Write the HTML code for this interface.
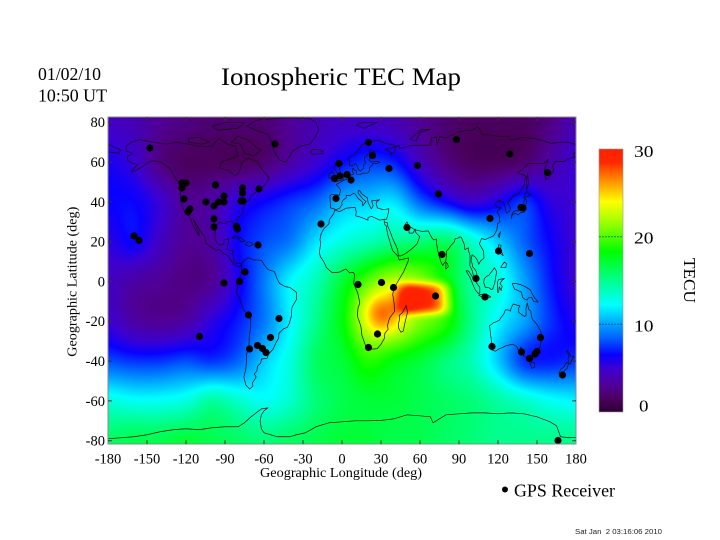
<!DOCTYPE html>
<html><head><meta charset="utf-8">
<style>
html,body{margin:0;padding:0;background:#fff;}
body{width:720px;height:540px;position:relative;overflow:hidden;}
#c{position:absolute;left:108px;top:117px;width:468px;height:327px;background:linear-gradient(to bottom,#3a0060 0%,#3010c0 30%,#00d0ff 55%,#00ff80 80%,#20ff40 100%);}
svg{position:absolute;left:0;top:0;}
</style></head><body>
<canvas id="c" width="468" height="327"></canvas>
<svg width="720" height="540" viewBox="0 0 720 540" xmlns="http://www.w3.org/2000/svg">
<defs>
<clipPath id="mc"><rect x="108" y="117" width="468" height="327"/></clipPath>
<linearGradient id="cb" x1="0" y1="1" x2="0" y2="0">
<stop offset="0" stop-color="rgb(45,0,50)"/>
<stop offset="0.05" stop-color="rgb(75,0,95)"/>
<stop offset="0.10" stop-color="rgb(80,0,150)"/>
<stop offset="0.167" stop-color="rgb(60,0,210)"/>
<stop offset="0.217" stop-color="rgb(10,0,255)"/>
<stop offset="0.28" stop-color="rgb(0,96,255)"/>
<stop offset="0.357" stop-color="rgb(0,192,255)"/>
<stop offset="0.407" stop-color="rgb(0,255,255)"/>
<stop offset="0.51" stop-color="rgb(0,255,128)"/>
<stop offset="0.61" stop-color="rgb(0,255,0)"/>
<stop offset="0.723" stop-color="rgb(160,255,0)"/>
<stop offset="0.80" stop-color="rgb(255,255,0)"/>
<stop offset="0.89" stop-color="rgb(255,128,0)"/>
<stop offset="0.95" stop-color="rgb(255,40,0)"/>
<stop offset="1" stop-color="rgb(255,32,0)"/>
</linearGradient>
</defs>

<g clip-path="url(#mc)">
<g transform="matrix(1.3 0 0 -1.99 342 281.5)" fill="none" stroke="#111" stroke-width="0.7" vector-effect="non-scaling-stroke" stroke-linejoin="round">
<polyline vector-effect="non-scaling-stroke" points="-166,68 -162,70 -156,71.3 -145,70 -135,69 -128,70 -118,69 -110,68 -100,68 -95,72 -88,69 -82,68 -80,63 -93,60 -94,57 -88,56 -82,53 -79,55 -77,60 -72,62 -65,60 -61,56 -56,52 -60,48 -66,45 -70,43 -71,41 -74,40 -76,37 -76,35 -81,31 -80,27 -80,25.3 -81.5,25.5 -82.7,28 -84,30 -88,30.3 -90,29 -94,29.7 -97,28 -97.5,25 -97.7,21.5 -96,19 -94,18.3 -91,18.7 -90.5,21 -87,21.5 -88,18 -88.5,16 -84,15.5 -83.5,11 -81.5,9 -79,9.3 -77.3,8.5 -78.5,7.5 -80,7.5 -82,8.2 -85.6,10.5 -87.5,13 -91,14 -94.5,16.2 -96.5,15.7 -100,17 -105,19.5 -105.6,22.7 -109.4,25.5 -112.5,29.3 -114.7,31.5 -113,29 -110,24 -110,23 -112,25 -114.3,28 -115.8,30.4 -117.2,32.6 -118.5,34 -120.6,34.6 -122.4,37.5 -124,40.5 -124.4,43 -124,46.3 -124.6,48.4 -123,49 -127,50.8 -130,54 -132,56.5 -136,58.5 -140,60 -146,60.7 -150,59.5 -154,57.5 -158,56 -162,55 -160,57 -157,58.7 -162,59.6 -165,61 -165,63 -161,64.5 -166,65.5 -166,68"/>
<polyline vector-effect="non-scaling-stroke" points="-73,78 -66,81 -45,82.3 -25,82 -20,80 -18,76 -21,72 -25,69 -32,68 -38,65.5 -43,60 -48,61 -51,64 -53,67 -54,70 -57,74 -66,76 -73,78"/>
<polyline vector-effect="non-scaling-stroke" points="-80,73 -72,71 -65,67 -62,66 -68,63 -75,64.5 -78,69 -85,70 -80,73"/>
<polyline vector-effect="non-scaling-stroke" points="-118,72 -110,72.5 -102,70 -108,69 -118,70 -118,72"/>
<polyline vector-effect="non-scaling-stroke" points="-100,78 -90,80 -75,80 -80,77 -95,76 -100,78"/>
<polyline vector-effect="non-scaling-stroke" points="-85,21.9 -82,23.1 -77.5,21.8 -74.2,20.2 -77.7,19.9 -80,21.8 -85,21.9"/>
<polyline vector-effect="non-scaling-stroke" points="-74.4,18.4 -72.5,19.9 -70,19.7 -68.4,18.6 -71.4,17.6 -74.4,18.4"/>
<polyline vector-effect="non-scaling-stroke" points="-22.5,63.9 -14.6,64.4 -14.5,65.4 -18.6,66.2 -22.7,66.4 -24,65 -22.5,63.9"/>
<polyline vector-effect="non-scaling-stroke" points="-77.3,8.5 -75.5,10.5 -72,12 -68,10.8 -62,10.7 -60,8.5 -57,6 -52,5 -50,1.5 -48,-1 -44,-2.5 -40,-3 -35,-5.5 -35,-9 -38.5,-13 -39,-17.5 -40.5,-21 -42,-23 -45,-23.8 -48.5,-26 -48.7,-28.5 -51,-31 -53,-34 -56.5,-36.5 -57.5,-38.5 -62,-39 -62.5,-41 -65,-42.5 -65.5,-45 -67.5,-46.5 -66,-48 -69,-51 -68.5,-52.5 -71,-54 -74,-52 -75.5,-48 -74,-44 -73.5,-40 -73.5,-37 -71.5,-32 -71.4,-28 -70.5,-24 -70.2,-18.5 -72,-17 -76,-14 -79,-8 -81,-6 -80.5,-2 -80,0 -78.5,2 -77.5,4 -77.3,7 -77.3,8.5"/>
<polyline vector-effect="non-scaling-stroke" points="-17,21 -16,24 -14,26.5 -10,29 -9.8,31 -6.5,34 -5.5,36 -2,35.1 3,36.8 10,37.3 11,35 10.5,33 15,32.2 20,30.8 20,32.2 23,32.7 29,30.8 32.3,31.3 32.5,30 33,28.5 34,28 35,24 37.5,18.5 39,15.5 43,12.7 44,10.8 51.2,11.8 51,10.4 47.5,5 42.5,-0.5 40,-3.5 39,-6.5 40,-10.5 40.5,-15 36.5,-18.5 35,-22 35.5,-24 33,-26 32.5,-28.7 30,-31.5 27,-33.8 22.5,-34 20,-34.8 18.4,-34 18,-32 15.3,-27 14.5,-22.5 11.8,-17.3 12.3,-13.5 13.7,-10.7 12.2,-6 9,-1 9.7,3.5 8.5,4.6 6,4.3 3,6.3 -2,4.7 -7.5,4.4 -12,7 -13.3,9 -15,11 -16.7,12.5 -17.4,14.7 -16.3,19.5 -17,21"/>
<polyline vector-effect="non-scaling-stroke" points="49.3,-12 50.4,-15.5 49.8,-17 48.5,-20.5 47.1,-24.9 45.3,-25.5 43.6,-23.5 43.3,-21.5 44.3,-19 44,-17 46.3,-15.8 48,-13.8 49.3,-12"/>
<polyline vector-effect="non-scaling-stroke" points="32.3,31.3 34.3,31.3 35,33 35.9,35 36,36.6 32.5,36.1 30.5,36.3 28.5,36.7 27.2,37 26.2,39.4 27,40.3 29,41.1 26,40.8 22.8,40.5 24,38 22.5,36.5 20.1,39.6 19.5,42 15,44.2 13.7,45.6 12.5,45.6 12.3,44.5 16,41.5 18.5,40.2 17,39 16,38 15.6,40 12.3,41.8 10.2,43.9 9,44.4 6,43.1 3.2,43.3 3.2,42 0.9,41 -0.3,39.5 0.2,38.8 -2,36.7 -5.5,36 -6,36.5 -8.9,37 -9,38.8 -9.3,43 -8,43.7 -1.9,43.4 -1.2,46 -2.9,47.6 -4.5,48.7 -1.6,49.8 1.6,50.9 3.3,51.3 4.7,52.9 6.9,53.5 8.9,53.9 8.1,55.5 8.1,56.5 8.5,57.1 9.9,55.8 10.9,55.8 11,54 14.1,53.8 16.5,54.5 19.7,54.4 21.1,55.7 21,56.8 21.6,57.4 23.4,58.6 23.3,59.2 28,59.5 29.1,60 26.3,60.4 22.9,60 21,60.7 21.5,61.7 21.6,63.2 25.3,65.1 24.3,65.6 21.6,65.6 21.4,64.4 19,63.5 17.4,62.5 17.2,61.3 18,59.4 16.8,58.7 16.5,57.3 16.3,56.7 14.1,55.4 12.6,56.3 11.7,58 11,58.9 10.4,59.4 8.4,58.3 7,58 5.7,58.6 5.9,59.8 5,62 8.5,63.5 10.5,64.5 12.4,65.9 14.7,67.8 15,68.5 19.2,69.8 23.7,70.5 28,71 33,69.5 36,69.1 40.5,68.4 41.1,67.5 33.2,66.5 38.4,64.5 37,63.8 40.3,64.6 41,67.4 44,68.5 44.2,66.8 54,68.5 59,68.5 68,68.5 69,72.5 72.5,72.5 73,68.5 75,72.8 80,72.2 86,74 88,75 97,76 100,76 104.5,77.7 106,76.5 108,73.7 113,73.7 120,73 128,72.8 130,71 140,72.5 150,71.6 160.9,69.4 170,70.1 175,69.8 180,68.9"/>
<polyline vector-effect="non-scaling-stroke" points="-180,68.9 -175,67.5 -170,66 -172,64.5 -180,65"/>
<polyline vector-effect="non-scaling-stroke" points="180,65 178.7,64.5 178,64.1 179.2,62.3 177.2,62.5 170.7,60.3 163.7,60.3 162,58 163,56 160,53 156.8,51 155.5,55.5 156.5,57.5 159,61.5 155,59.2 148.5,59.2 143.4,59.3 138.8,56.3 135.1,54.7 137.5,53.9 141.4,53.1 141.4,52.2 140.5,51 140.1,48.4 138.2,46.3 135.5,43.9 132,43.3 129.7,41.6 129.5,40.8 127.5,39.8 129.5,37 128.9,35.2 126.5,34.4 125.3,37.7 124.3,39.9 122.5,40.4 121.4,39.7 121,40.9 117.5,39 118,38.5 119.2,37.2 122.5,37 120.6,36.1 119.2,34.9 120,34.4 121.1,32.4 121.5,30.1 119.6,28.9 119.2,26 116.7,23 114.2,22.2 111.8,21.6 110,21.1 107.4,21.6 105.7,19 106.6,17.8 108.9,15.3 109.2,11.7 106.7,10.4 105.2,8.6 104.3,10.5 102.6,12.2 100.1,13.4 99.2,10.3 100,9.3 100.5,7.4 102.1,6.2 103.4,4.9 104.2,1.5 103.5,1.3 101,3 100.3,5.3 98.3,8 98.5,10.7 98.5,13.1 97.6,14.8 97.2,16.9 94.5,16 94.3,18.2 92.7,20.7 91.8,22.2 90.6,22.4 89,21.7 87,21.5 86.5,20 84.1,18.3 82.2,16.6 80.2,15.1 80.3,13 79.9,10.4 78.3,8.9 77.5,8 76.3,9.5 74.6,13 73.5,16 72.8,19 72.6,21.4 70.5,20.9 68.8,22.3 67.5,23.9 66.5,25.4 61.6,25.2 57.3,25.8 54.8,26.5 51.4,27.9 50,30 48.4,28.5 50,26.3 51.5,25.9 51.6,24.3 54.5,24.3 56.3,26.3 56.4,24.9 59.8,22.5 57.8,19 55.5,17.5 52.2,15.6 48.7,14 45,12.8 43.3,13 42.8,16 40.8,19 39,21.5 36.8,25.5 35,28 34.9,29.5 32.5,30"/>
<polyline vector-effect="non-scaling-stroke" points="-5.7,50 1.4,51.3 1.7,52.7 0,53.5 -1.3,55 -2,57 -3,58.6 -5,58.6 -6.2,56.8 -4.9,55.5 -3,54 -4.8,53 -4,51.5 -5.7,50"/>
<polyline vector-effect="non-scaling-stroke" points="-6,52 -6,54 -7.6,55.2 -10,54 -10,52 -6,52"/>
<polyline vector-effect="non-scaling-stroke" points="52,71.5 57,70.7 60,75 68,76.5 61,76.3 55,73 52,71.5"/>
<polyline vector-effect="non-scaling-stroke" points="11,78.5 16,80 27,80 20,78 17,77 11,78.5"/>
<polyline vector-effect="non-scaling-stroke" points="142,46 143.5,49.3 142.8,54.3 142,51.5 142,46"/>
<polyline vector-effect="non-scaling-stroke" points="130,31.5 131,33.5 133,34.3 135.5,33.5 137.5,34.6 140.5,35 141,37.5 142,40 141.4,41.4 140,40.7 139.8,38 137.2,36.8 135.7,35.5 133,35.6 131,34.4 130,31.5"/>
<polyline vector-effect="non-scaling-stroke" points="140,41.6 141.5,42.6 145.5,43.3 141.8,45.4 140,42.5 140,41.6"/>
<polyline vector-effect="non-scaling-stroke" points="79.8,6.2 81.8,7.5 81.2,8.9 80,9.8 79.8,6.2"/>
<polyline vector-effect="non-scaling-stroke" points="120.1,23 121.9,25 121,22 120.1,23"/>
<polyline vector-effect="non-scaling-stroke" points="120.5,18.5 122.3,18.2 122,16 124,13 122,14 120.5,14.5 120,16 120.5,18.5"/>
<polyline vector-effect="non-scaling-stroke" points="122,7 126,7 126.5,8.9 125,9.8 123,8.1 122,7"/>
<polyline vector-effect="non-scaling-stroke" points="109.5,1.5 111.5,2.7 113,3.2 115.5,5.3 117.3,6.9 119,5 117.9,1 117.5,-0.8 116.5,-2.5 116,-3.7 114.9,-4.1 113,-3.1 110.2,-2.9 109,-0.5 109.5,1.5"/>
<polyline vector-effect="non-scaling-stroke" points="95.3,5.5 97.5,5.2 100.6,2 103.8,-1 106,-3 106,-5.9 104.7,-5.9 102.5,-4.2 101,-2 98.6,1.8 95.4,5.5"/>
<polyline vector-effect="non-scaling-stroke" points="105,-6.8 108.5,-6.4 112.6,-6.9 114.5,-7.8 110,-8.1 106.5,-7.4 105,-6.8"/>
<polyline vector-effect="non-scaling-stroke" points="119.5,-5.5 120.5,-5.5 121,-2.6 122.5,-4.5 123.2,-2.5 121.5,-1 123,0.5 125,1.5 120.5,1 119.5,-0.5 119.5,-5.5"/>
<polyline vector-effect="non-scaling-stroke" points="131,-1 134,-1 138,-1.7 141,-2.6 145,-4.3 146,-5.9 148,-8 150.8,-10.3 147.5,-10.1 146,-8 143.3,-8.2 142.6,-9.3 141,-9.1 139,-8 138,-5.4 135,-4.4 133,-4 132,-2.8 131,-1"/>
<polyline vector-effect="non-scaling-stroke" points="113.5,-22 114.2,-26.2 115,-30 115.7,-33.5 115,-34.3 118,-35 121,-33.8 124,-33 126,-32.3 131.3,-31.5 134.3,-32.6 135.9,-34.8 137.8,-32.8 137.5,-35 140,-37.5 143.5,-38.8 146.3,-39.1 150,-37.5 150.7,-35 152.5,-32.5 153.6,-28.5 153.1,-25.4 150.9,-22.6 149.2,-21 146.4,-19 145.4,-16 145.3,-14.9 143.6,-14 142.5,-10.7 141.5,-13.6 141.6,-16.9 140.5,-17.6 139,-17 136,-15.5 135.9,-13.3 136.9,-12.3 132.6,-11.5 131.8,-11.3 130.2,-13.1 129.6,-14.9 127.8,-14.3 125.7,-14.2 124.4,-16.4 122.2,-18.2 121,-19.5 118,-20.4 116.7,-20.6 114.6,-21.8 113.5,-22"/>
<polyline vector-effect="non-scaling-stroke" points="144.7,-40.7 148.3,-40.9 148,-43.2 146,-43.6 144.7,-41.2 144.7,-40.7"/>
<polyline vector-effect="non-scaling-stroke" points="172.6,-34.5 174.3,-35.3 175.9,-37.5 178.5,-37.7 177,-39.3 175.2,-41.6 174.6,-40.9 173.8,-39.2 174.6,-37.3 172.6,-34.5"/>
<polyline vector-effect="non-scaling-stroke" points="172.8,-40.5 174.3,-41.3 173,-43.8 171.2,-44.7 169.3,-46.6 166.7,-46.2 168.3,-44.1 170.6,-43 172.8,-40.5"/>
<polyline vector-effect="non-scaling-stroke" points="-180,-79 -170,-78.5 -160,-78 -150,-77 -140,-75.5 -130,-74.5 -120,-74 -110,-74.5 -100,-73.5 -90,-73 -80,-73 -75,-71 -70,-68 -66,-66 -62,-64 -57,-63.5 -60,-65 -62,-67 -63,-70 -62,-74 -60,-76 -50,-78 -40,-78 -35,-77 -28,-76 -20,-73 -10,-71 0,-70.5 10,-70 20,-70 30,-69.8 40,-69 50,-67 60,-67.5 68,-68 70,-71 75,-69 80,-67 90,-66.5 100,-66 110,-66 120,-66.5 130,-66 140,-66.5 150,-68 160,-70.5 165,-72.5 167,-76 168,-78 175,-78.5 180,-78.3"/>
</g>
</g>

<g fill="#000">
<circle cx="150" cy="148" r="3.6"/><circle cx="182" cy="183" r="3.6"/><circle cx="186" cy="183" r="3.6"/><circle cx="182" cy="188" r="3.6"/><circle cx="184" cy="199" r="3.6"/><circle cx="190" cy="209" r="3.6"/><circle cx="188" cy="212" r="3.6"/><circle cx="215.5" cy="185" r="3.6"/><circle cx="206" cy="202" r="3.6"/><circle cx="214" cy="206" r="3.6"/><circle cx="218.5" cy="202" r="3.6"/><circle cx="224" cy="196" r="3.6"/><circle cx="224" cy="202" r="3.6"/><circle cx="242.5" cy="188" r="3.6"/><circle cx="242.5" cy="193" r="3.6"/><circle cx="259" cy="189" r="3.6"/><circle cx="241" cy="201" r="3.6"/><circle cx="243" cy="201" r="3.6"/><circle cx="214" cy="219" r="3.6"/><circle cx="214" cy="227" r="3.6"/><circle cx="236.5" cy="226.5" r="3.6"/><circle cx="237.5" cy="229" r="3.6"/><circle cx="258" cy="245" r="3.6"/><circle cx="245" cy="272" r="3.6"/><circle cx="239.5" cy="281.5" r="3.6"/><circle cx="224" cy="283" r="3.6"/><circle cx="134" cy="236" r="3.6"/><circle cx="139" cy="240.5" r="3.6"/><circle cx="275" cy="144" r="3.6"/><circle cx="321" cy="224" r="3.6"/><circle cx="336" cy="198.5" r="3.6"/><circle cx="334.5" cy="178.5" r="3.6"/><circle cx="339" cy="163.5" r="3.6"/><circle cx="340" cy="176" r="3.6"/><circle cx="347" cy="174.5" r="3.6"/><circle cx="351" cy="180" r="3.6"/><circle cx="358" cy="284.5" r="3.6"/><circle cx="368.5" cy="142.5" r="3.6"/><circle cx="372.5" cy="155.5" r="3.6"/><circle cx="389" cy="168.5" r="3.6"/><circle cx="417.5" cy="165.5" r="3.6"/><circle cx="456.5" cy="139.5" r="3.6"/><circle cx="510" cy="154" r="3.6"/><circle cx="547.5" cy="172.5" r="3.6"/><circle cx="438.5" cy="194" r="3.6"/><circle cx="521" cy="207.5" r="3.6"/><circle cx="523" cy="208" r="3.6"/><circle cx="490" cy="218.5" r="3.6"/><circle cx="407" cy="227.5" r="3.6"/><circle cx="442" cy="254.5" r="3.6"/><circle cx="498.5" cy="251" r="3.6"/><circle cx="529.5" cy="253.5" r="3.6"/><circle cx="476" cy="278.5" r="3.6"/><circle cx="381.5" cy="282.5" r="3.6"/><circle cx="393.5" cy="287.5" r="3.6"/><circle cx="435.5" cy="296" r="3.6"/><circle cx="485" cy="297" r="3.6"/><circle cx="248.5" cy="315" r="3.6"/><circle cx="279" cy="318.5" r="3.6"/><circle cx="199.5" cy="336.5" r="3.6"/><circle cx="270.5" cy="337.5" r="3.6"/><circle cx="249.5" cy="349" r="3.6"/><circle cx="257.5" cy="345.5" r="3.6"/><circle cx="262.5" cy="348.5" r="3.6"/><circle cx="266" cy="352.5" r="3.6"/><circle cx="377.5" cy="334" r="3.6"/><circle cx="368.5" cy="347.5" r="3.6"/><circle cx="492" cy="346.5" r="3.6"/><circle cx="521.5" cy="352" r="3.6"/><circle cx="540.5" cy="337.5" r="3.6"/><circle cx="529.5" cy="358.5" r="3.6"/><circle cx="535" cy="354" r="3.6"/><circle cx="537" cy="351.5" r="3.6"/><circle cx="562.5" cy="375" r="3.6"/><circle cx="558" cy="440.5" r="3.6"/>
</g>

<rect x="108" y="117" width="468" height="327" fill="none" stroke="#8a8a8a" stroke-width="1"/>
<g stroke="#333" stroke-width="1">
<path d="M147,444v-4M186,444v-4M225,444v-4M264,444v-4M303,444v-4M342,444v-4M381,444v-4M420,444v-4M459,444v-4M498,444v-4M537,444v-4"/>
<path d="M147,117v4M186,117v4M225,117v4M264,117v4M303,117v4M342,117v4M381,117v4M420,117v4M459,117v4M498,117v4M537,117v4"/>
<path d="M108,122.3h4M108,162.1h4M108,201.9h4M108,241.7h4M108,281.5h4M108,321.3h4M108,361.1h4M108,400.9h4M108,440.7h4"/>
<path d="M576,122.3h-4M576,162.1h-4M576,201.9h-4M576,241.7h-4M576,281.5h-4M576,321.3h-4M576,361.1h-4M576,400.9h-4M576,440.7h-4"/>
</g>

<rect x="599" y="149" width="24" height="263" fill="url(#cb)" stroke="#999" stroke-width="0.6"/>
<g stroke="#000" stroke-opacity="0.45" stroke-width="1" stroke-dasharray="2,1">
<line x1="599" y1="236.7" x2="623" y2="236.7"/>
<line x1="599" y1="324.3" x2="623" y2="324.3"/>
</g>

<g font-family="'Liberation Serif','Times New Roman',serif" fill="#000">
<text x="38" y="80" font-size="17.5" textLength="63" lengthAdjust="spacingAndGlyphs">01/02/10</text>
<text x="38" y="101.7" font-size="17.5" textLength="69" lengthAdjust="spacingAndGlyphs">10:50 UT</text>
<text x="221" y="85" font-size="25.5" textLength="240" lengthAdjust="spacingAndGlyphs">Ionospheric TEC Map</text>

<g font-size="14.5" text-anchor="end">
<text x="105" y="127.2">80</text>
<text x="105" y="167">60</text>
<text x="105" y="206.8">40</text>
<text x="105" y="246.6">20</text>
<text x="105" y="286.4">0</text>
<text x="105" y="326.2">-20</text>
<text x="105" y="366">-40</text>
<text x="105" y="405.8">-60</text>
<text x="105" y="445.6">-80</text>
</g>
<g font-size="14.5" text-anchor="middle">
<text x="108" y="463.3">-180</text>
<text x="147" y="463.3">-150</text>
<text x="186" y="463.3">-120</text>
<text x="225" y="463.3">-90</text>
<text x="264" y="463.3">-60</text>
<text x="303" y="463.3">-30</text>
<text x="342" y="463.3">0</text>
<text x="381" y="463.3">30</text>
<text x="420" y="463.3">60</text>
<text x="459" y="463.3">90</text>
<text x="498" y="463.3">120</text>
<text x="537" y="463.3">150</text>
<text x="576" y="463.3">180</text>
</g>
<text transform="translate(76.5,281.7) rotate(-90)" font-size="14" text-anchor="middle" textLength="150" lengthAdjust="spacingAndGlyphs">Geographic Latitude (deg)</text>
<text x="341" y="477" font-size="14" text-anchor="middle" textLength="162" lengthAdjust="spacingAndGlyphs">Geographic Longitude (deg)</text>

<text x="634" y="156.8" font-size="17" textLength="19.5" lengthAdjust="spacingAndGlyphs">30</text>
<text x="634" y="243.5" font-size="17" textLength="19.5" lengthAdjust="spacingAndGlyphs">20</text>
<text x="634" y="331.5" font-size="17" textLength="19.5" lengthAdjust="spacingAndGlyphs">10</text>
<text x="639" y="411.5" font-size="17" textLength="9.5" lengthAdjust="spacingAndGlyphs">0</text>
<text transform="translate(684,280.5) rotate(90)" font-size="17" text-anchor="middle" textLength="45" lengthAdjust="spacingAndGlyphs">TECU</text>

<circle cx="505" cy="489.5" r="3" fill="#000"/>
<text x="514" y="496.7" font-size="17.5" textLength="101" lengthAdjust="spacingAndGlyphs">GPS Receiver</text>
</g>
<text x="575" y="534" font-family="'Liberation Sans',Arial,sans-serif" font-size="7" fill="#222" textLength="87" lengthAdjust="spacingAndGlyphs" xml:space="preserve">Sat Jan  2 03:16:06 2010</text>
</svg>

<script>
(function(){
var G=[
[4.5,4,3,2.5,2,2,2,3,4,4.5,4.5,4,3,2,1.5,1.5,1.5,2.5,4],
[6,5,2.5,1.5,1.5,1.5,2,3.5,5,6.5,7.5,7,4.5,2.5,1.5,1.5,2,3.5,5],
[6.5,6.5,5,3,3.5,5.5,6.5,7.5,8.5,10.5,11,11.5,8.5,6.5,5,6,7.5,5.5,5],
[5.5,6.5,4.5,3,3.5,6.5,8,9,11.5,13,14,15,15.5,16,13.5,11,8.5,6.5,5],
[4.5,3.5,3,2.5,3,6,9,12,14,17,20,22,21,18,14.5,13,10,7,5],
[5,3.5,3,3.5,5.5,7,9,12,15,18,22,23,21,19,15,12,10,7.5,6],
[8,7.5,7.5,8,7.5,8.5,11,13,16,17,19,18,17,15.5,14,11,7.5,7,7.5],
[13,12.5,12.5,13,14.5,13.5,12.5,13.5,15.5,16.5,17,17,16.5,16,15.5,14.5,13.5,12.5,12],
[16,16.5,16.5,17,16.5,16,15.5,16,16.5,17,17,16.5,16.5,16,15.5,15,15,15,15]];
function cr(a,b,c,d,t){return b+0.5*t*(c-a+t*(2*a-5*b+4*c-d+t*(3*(b-c)+d-a)));}
function gv(r,c){r=r<0?0:(r>8?8:r);c=c<0?0:(c>18?18:c);return G[r][c];}
function tec(lon,lat){
 var fc=(lon+180)/20,fr=(80-lat)/20;
 var c=Math.floor(fc),r=Math.floor(fr);var tc=fc-c,tr=fr-r;
 var rw=[];
 for(var i=-1;i<3;i++){rw.push(cr(gv(r+i,c-1),gv(r+i,c),gv(r+i,c+1),gv(r+i,c+2),tc));}
 var v=cr(rw[0],rw[1],rw[2],rw[3],tr);
 var dx=(lon-62)/20,dy=(lat+8.5)/8;
 v+=8*Math.exp(-(dx*dx*dx*dx+dy*dy*dy*dy));
 dx=(lon-30)/14;dy=(lat+16)/10;
 v+=4*Math.exp(-(dx*dx+dy*dy));
 return v;
}
var S=[[0,45,0,50],[1.5,75,0,95],[3,80,0,150],[5,60,0,210],[6.5,10,0,255],[8.4,0,96,255],[10.7,0,192,255],[12.2,0,255,255],[15.3,0,255,128],[18.3,0,255,0],[21.7,160,255,0],[24,255,255,0],[26.7,255,128,0],[28.5,255,40,0],[30,255,32,0]];
function cm(v){
 if(v<=0)return S[0];
 if(v>=30)return S[S.length-1];
 for(var i=1;i<S.length;i++){if(v<=S[i][0]){var a=S[i-1],b=S[i],t=(v-a[0])/(b[0]-a[0]);return [0,a[1]+(b[1]-a[1])*t,a[2]+(b[2]-a[2])*t,a[3]+(b[3]-a[3])*t];}}
 return S[S.length-1];
}
var cv=document.getElementById('c');var ctx=cv.getContext('2d');
var W=468,H=327;var im=ctx.createImageData(W,H);var d=im.data;
for(var y=0;y<H;y++){
 var lat=(281.5-(117+y+0.5))/1.99;
 for(var x=0;x<W;x++){
  var lon=(x+0.5)/1.3-180;
  var col=cm(tec(lon,lat));var k=(y*W+x)*4;
  d[k]=col[1];d[k+1]=col[2];d[k+2]=col[3];d[k+3]=255;
 }
}
ctx.putImageData(im,0,0);
})();
</script>
</body></html>
